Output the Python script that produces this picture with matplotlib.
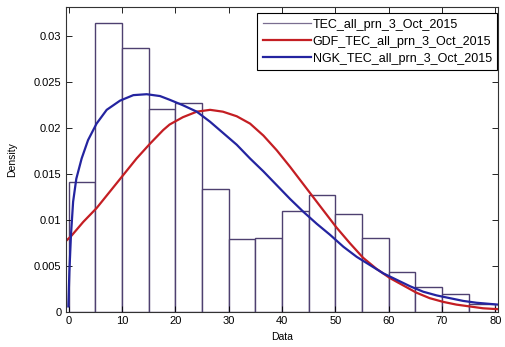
import matplotlib
matplotlib.use("Agg")
import matplotlib.pyplot as plt
from matplotlib.lines import Line2D

plt.rcParams['font.family'] = ['Liberation Sans', 'DejaVu Sans']

# histogram of TEC data (bin edges 0..80 step 5)
bin_left = [0, 5, 10, 15, 20, 25, 30, 35, 40, 45, 50, 55, 60, 65, 70, 75]
bin_height = [0.0141, 0.0315, 0.0287, 0.0221, 0.0227, 0.0134, 0.0079, 0.0081,
              0.0110, 0.0127, 0.0107, 0.0081, 0.0043, 0.0027, 0.0020, 0.0009]

# fitted GDF curve
gdf_x = [-0.4, 0.5, 2.7, 5.2, 7.7, 10.2, 12.7, 15.2, 17.7, 18.9, 21.4, 24.0,
         26.5, 28.9, 31.5, 34.0, 36.5, 39.0, 41.5, 44.0, 46.5, 50.2,
         52.7, 55.2, 57.7, 60.2, 62.7, 65.2, 67.7, 70.2, 72.7, 75.2, 77.7, 80.5]
gdf_y = [0.0078, 0.0083, 0.0098, 0.0113, 0.0131, 0.0149, 0.0167, 0.0183,
         0.0198, 0.0204, 0.0212, 0.0218, 0.0220, 0.0218, 0.0213, 0.0205,
         0.0192, 0.0176, 0.0158, 0.0139, 0.0120, 0.0092, 0.0075,
         0.0059, 0.0047, 0.0037, 0.0029, 0.0021, 0.0015, 0.0011, 0.0008,
         0.0006, 0.0004, 0.0003]

# fitted NGK curve
ngk_x = [-0.1, 0.1, 0.4, 0.8, 1.4, 2.4, 3.6, 5.2, 7.1, 9.6, 12.1, 14.6, 17.1,
         18.9, 21.4, 24.0, 26.5, 28.9, 31.5, 34.0, 36.5, 39.0, 41.5, 44.0,
         46.5, 49.0, 51.5, 54.0, 56.5, 59.0, 61.5, 64.0, 66.5, 69.0, 71.5,
         74.0, 76.5, 80.5]
ngk_y = [0.0006, 0.0044, 0.0084, 0.0120, 0.0145, 0.0167, 0.0187, 0.0205,
         0.0220, 0.0230, 0.0236, 0.0237, 0.0235, 0.0231, 0.0225, 0.0218,
         0.0207, 0.0195, 0.0182, 0.0167, 0.0153, 0.0138, 0.0123, 0.0109,
         0.0096, 0.0084, 0.0071, 0.0060, 0.0051, 0.0042, 0.0035, 0.0028,
         0.0022, 0.0018, 0.0015, 0.0012, 0.0010, 0.0008]

labels = ['TEC_all_prn_3_Oct_2015', 'GDF_TEC_all_prn_3_Oct_2015', 'NGK_TEC_all_prn_3_Oct_2015']

hist_color = '#4e4070'
gdf_color = '#c41e23'
ngk_color = '#2424a0'

fig = plt.figure(figsize=(5.05, 3.47), dpi=100)
ax = fig.add_axes([0.130, 0.101, 0.856, 0.879])

ax.bar(bin_left, bin_height, width=5, align='edge', color='white',
       edgecolor=hist_color, linewidth=1.0)
ax.plot(gdf_x, gdf_y, color=gdf_color, lw=1.6, solid_joinstyle='round')
ax.plot(ngk_x, ngk_y, color=ngk_color, lw=1.6, solid_joinstyle='round')

ax.set_xlim(-0.6, 80.5)
ax.set_ylim(0, 0.0332)
ax.set_xticks([0, 10, 20, 30, 40, 50, 60, 70, 80])
ax.set_yticks([0, 0.005, 0.01, 0.015, 0.02, 0.025, 0.03])
ax.set_yticklabels(['0', '0.005', '0.01', '0.015', '0.02', '0.025', '0.03'])
ax.tick_params(direction='in', top=True, right=True, length=4, width=0.6,
               labelsize=8, pad=3)
for s in ax.spines.values():
    s.set_linewidth(0.8)
    s.set_color('#333333')

ax.set_xlabel('Data', fontsize=7.5, labelpad=4)
ax.set_ylabel('Density', fontsize=7.5, labelpad=12)

handles = [Line2D([], [], color='#7a6e90', lw=0.9),
           Line2D([], [], color=gdf_color, lw=1.6),
           Line2D([], [], color=ngk_color, lw=1.6)]
leg = ax.legend(handles, labels, loc='upper right', bbox_to_anchor=(0.999, 0.98),
                borderaxespad=0, fontsize=9, fancybox=False, framealpha=1,
                handlelength=3.9, handletextpad=0.1, labelspacing=0.4,
                borderpad=0.45)
leg.get_frame().set_edgecolor('black')
leg.get_frame().set_linewidth(0.8)

fig.savefig('out.png', dpi=100)
